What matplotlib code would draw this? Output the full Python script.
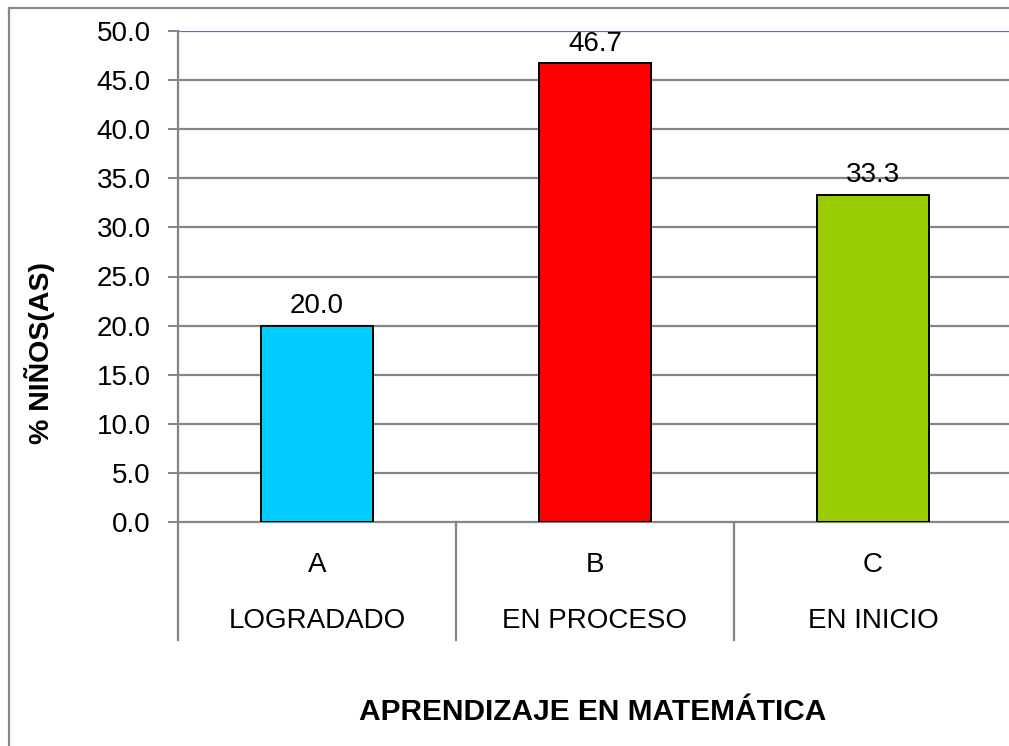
import matplotlib
matplotlib.use("Agg")
import matplotlib.pyplot as plt
from matplotlib.lines import Line2D

categories = ["A", "B", "C"]
subcategories = ["LOGRADADO", "EN PROCESO", "EN INICIO"]
values = [20.0, 46.7, 33.3]
colors = ["#00CCFF", "#FF0000", "#99CC00"]
yticks = [0, 5, 10, 15, 20, 25, 30, 35, 40, 45, 50]
ylabel = "% NIÑOS(AS)"
xlabel = "APRENDIZAJE EN MATEMÁTICA"

plt.rcParams['font.family'] = ['Liberation Sans', 'DejaVu Sans']

W, H = 1009, 746
fig = plt.figure(figsize=(W / 100, H / 100), dpi=100)
fig.patch.set_facecolor("white")

# outer chart border (only left and top edges are visible)
bx, by = 9 / W, (H - 8) / H
fig.add_artist(Line2D([bx, bx], [0, by], transform=fig.transFigure,
                      color="#898989", linewidth=1.6))
fig.add_artist(Line2D([bx, 1], [by, by], transform=fig.transFigure,
                      color="#898989", linewidth=1.6))

left, right, top, bottom = 178, 1012, 31, 522
ax = fig.add_axes([left / W, (H - bottom) / H, (right - left) / W, (bottom - top) / H])

n = len(categories)
xpos = [i + 0.5 for i in range(n)]
ax.bar(xpos, values, width=0.40, color=colors, edgecolor="black", linewidth=1.4, zorder=3)

ax.set_xlim(0, n)
ax.set_ylim(0, 50)
ax.set_yticks(yticks)
ax.set_yticklabels([f"{v:.1f}" for v in yticks], fontsize=20)
ax.tick_params(axis="y", length=7.5, width=1.4, color="#868686", pad=12)
ax.set_xticks([])

for s in ["right", "top"]:
    ax.spines[s].set_visible(False)
ax.spines["left"].set_color("#868686")
ax.spines["left"].set_linewidth(1.6)
ax.spines["bottom"].set_color("#868686")
ax.spines["bottom"].set_linewidth(1.6)

for v in yticks[1:]:
    c = "#6B6B9B" if v == 50 else "#868686"
    ax.axhline(v, color=c, linewidth=1.6, zorder=1)

# value labels
for x, v in zip(xpos, values):
    ax.annotate(f"{v:.1f}", (x, v), xytext=(0, 9), textcoords="offset points",
                ha="center", va="baseline", fontsize=20)

# category separators and labels below the axis
span = bottom - top
xt = ax.get_xaxis_transform()
for i in range(n + 1):
    ax.plot([i, i], [0, -(640 - bottom) / span], transform=xt, color="#868686",
            linewidth=1.6, clip_on=False)
for x, c, s in zip(xpos, categories, subcategories):
    ax.text(x, -(565 - bottom) / span, c, transform=xt, ha="center", va="center", fontsize=20)
    ax.text(x, -(621 - bottom) / span, s, transform=xt, ha="center", va="center", fontsize=20)

fig.text(40 / W, (H - 353) / H, ylabel, rotation=90, ha="center", va="center",
         fontsize=20.5, fontweight="bold")
fig.text(593 / W, (H - 712) / H, xlabel, ha="center", va="center",
         fontsize=21.5, fontweight="bold")

fig.savefig("out.png", dpi=100)
